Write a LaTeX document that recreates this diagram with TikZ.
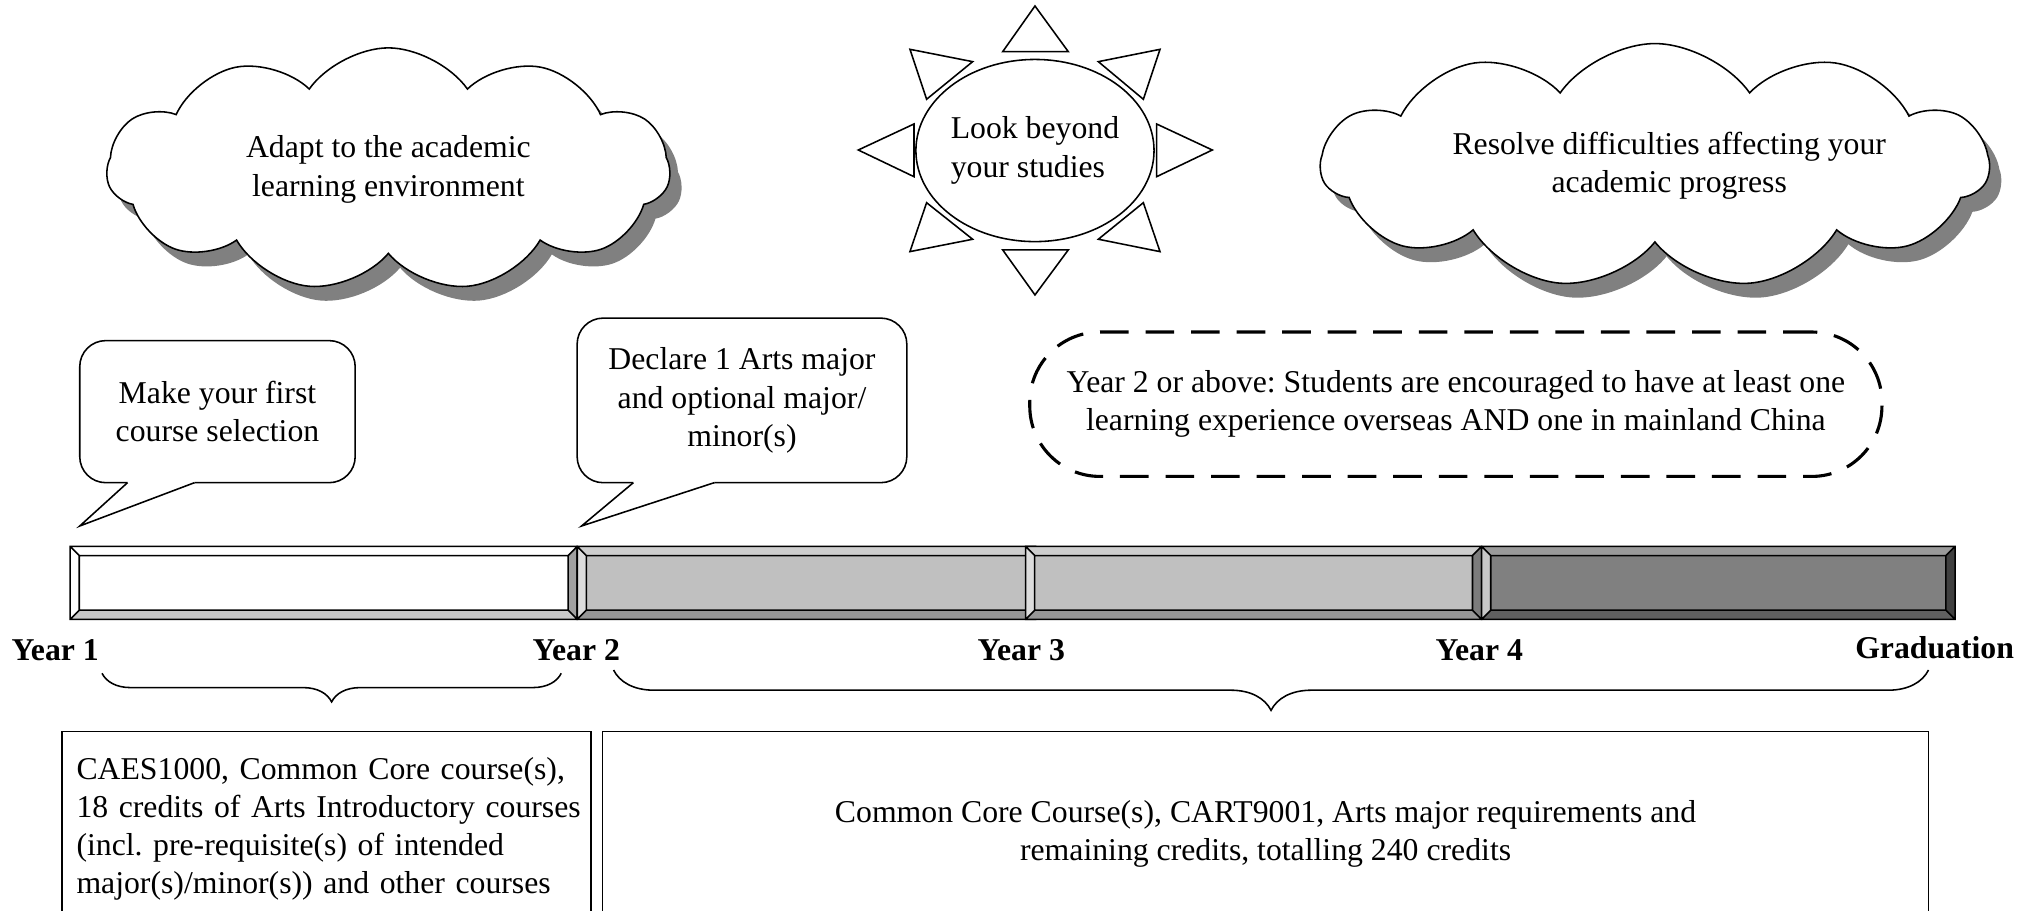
\documentclass[tikz,border=0pt]{standalone}
\usepackage{fontspec}
\setmainfont{Liberation Serif}
\usepackage{tikz}
\usetikzlibrary{shapes.symbols, shapes.geometric, shadows, decorations.pathreplacing}
\frenchspacing

\definecolor{shadowgray}{RGB}{128,128,128}
\definecolor{barsilver}{RGB}{192,192,192}
\definecolor{bardark}{RGB}{128,128,128}
\definecolor{bevpale}{RGB}{220,220,220}
\definecolor{bevtop}{RGB}{206,206,206}
\definecolor{bevlow}{RGB}{200,200,200}
\definecolor{bevmid}{RGB}{160,160,160}
\definecolor{bevdeep}{RGB}{150,150,150}
\definecolor{bevgrey}{RGB}{124,124,124}
\definecolor{bevdarktop}{RGB}{154,154,154}
\definecolor{bevdarklow}{RGB}{96,96,96}
\definecolor{bevdarkend}{RGB}{64,64,64}

% one bevelled piece of the timeline: x1, x2, face, top, left, bottom, right
\newcommand{\yearbar}[7]{%
  \fill[#3] (#1+7,427) rectangle (#2-7,469);
  \fill[#4] (#1,420) -- (#2,420) -- (#2-7,427) -- (#1+7,427) -- cycle;
  \fill[#5] (#1,420) -- (#1+7,427) -- (#1+7,469) -- (#1,476) -- cycle;
  \fill[#6] (#1,476) -- (#2,476) -- (#2-7,469) -- (#1+7,469) -- cycle;
  \fill[#7] (#2,420) -- (#2,476) -- (#2-7,469) -- (#2-7,427) -- cycle;
  \draw[barline] (#1,420) rectangle (#2,476) (#1+7,427) rectangle (#2-7,469)
    (#1,420) -- (#1+7,427) (#2,420) -- (#2-7,427)
    (#1,476) -- (#1+7,469) (#2,476) -- (#2-7,469);
}

\begin{document}
\begin{tikzpicture}[x=0.5pt, y=-0.5pt, line width=0.6pt,
  font=\fontsize{12.2pt}{14.7pt}\selectfont,
  cloudbox/.style={cloud, cloud puffs=11, cloud puff arc=110, cloud ignores aspect,
    draw, fill=white, align=center, inner sep=0pt,
    drop shadow={shadow xshift=4.5pt, shadow yshift=-5.5pt, fill=shadowgray, opacity=1}},
  ray/.style={draw, fill=white, line join=miter},
  bubble/.style={draw, fill=white, rounded corners=10pt, align=center, inner sep=0pt},
  barline/.style={draw=black, line width=0.6pt, line join=miter},
  yearlabel/.style={font=\fontsize{12.2pt}{14.7pt}\selectfont\bfseries},
  creditbox/.style={draw, inner ysep=0pt}]
  \useasboundingbox (0,0) rectangle (1568,700.2);

  % Clouds
  \node[cloudbox, minimum width=216.5pt, minimum height=93.5pt] (adapt) at (298.5,130.3) {Adapt to the academic\\learning environment};
  \node[cloudbox, minimum width=256.5pt, minimum height=94pt] (resolve) at (1272,127.5) {\hspace*{11pt}Resolve difficulties affecting your\\\hspace*{11pt}academic progress};

  % Sun
  \node[draw, ellipse, minimum width=87pt, minimum height=70pt, inner sep=0pt, align=left] (sun) at (795.5,115.7) {Look beyond\\your studies};
  \draw[ray] (795.5,4.6) -- (770.7,39.7) -- (821.1,39.7) -- cycle;
  \draw[ray] (795.5,226.7) -- (770.7,192.1) -- (821.1,192.1) -- cycle;
  \draw[ray] (659.7,115.3) -- (702.5,95.3) -- (702.5,135.8) -- cycle;
  \draw[ray] (931.8,115.3) -- (889.0,95.3) -- (889.0,135.8) -- cycle;
  \draw[ray] (699.4,37.9) -- (747.6,47.4) -- (712.2,76.3) -- cycle;
  \draw[ray] (891.6,37.9) -- (844.2,47.4) -- (878.8,76.3) -- cycle;
  \draw[ray] (699.4,193.4) -- (747.6,183.9) -- (712.2,155.8) -- cycle;
  \draw[ray] (891.6,193.4) -- (844.2,183.9) -- (878.8,155.8) -- cycle;

  % Speech bubbles
  \node[bubble, minimum width=105.85pt, minimum height=54.6pt] (firstpick) at (167.15,316.4) {Make your first\\course selection};
  \fill[white] (98,369.6) -- (149.5,369.6) -- (149.5,371) -- (61.3,404.3) -- (98,371) -- cycle;
  \draw[line join=miter] (98,371) -- (61.3,404.3) -- (149.5,371);

  \node[bubble, minimum width=126.7pt, minimum height=63.25pt] (declare) at (570.3,307.75) {Declare 1 Arts major\\and optional major/\\minor(s)};
  \fill[white] (486.8,369.6) -- (549,369.6) -- (549,371) -- (447,404.3) -- (486.8,371) -- cycle;
  \draw[line join=miter] (486.8,371) -- (447,404.3) -- (549,371);

  % Overseas and mainland experience
  \node[draw, dash pattern=on 11pt off 6.5pt, line width=1.2pt, rounded corners=27pt, minimum width=327.5pt, minimum height=55.5pt, inner sep=0pt, align=center] (abroad) at (1119,310.7) {Year 2 or above: Students are encouraged to have at least one\\learning experience overseas AND one in mainland China};

  % Timeline
  \yearbar{53.9}{443.7}{white}{white}{white}{bevlow}{bevmid}
  \yearbar{443.7}{796}{barsilver}{bevtop}{bevpale}{bevdeep}{bevmid}
  \yearbar{788.3}{1138.8}{barsilver}{bevtop}{bevpale}{bevdeep}{bevgrey}
  \yearbar{1138.8}{1502.7}{bardark}{bevdarktop}{bevlow}{bevdarklow}{bevdarkend}

  \node[yearlabel] (yr1) at (42.4,500) {Year 1};
  \node[yearlabel] (yr2) at (443,500) {Year 2};
  \node[yearlabel] (yr3) at (785,500) {Year 3};
  \node[yearlabel] (yr4) at (1137,500) {Year 4};
  \node[yearlabel] (grad) at (1487,498) {Graduation};

  % Braces
  \draw[decorate, decoration={brace, mirror, amplitude=11pt}] (78.4,517.5) -- (431.4,517.5);
  \draw[decorate, decoration={brace, mirror, amplitude=15.5pt}] (471.6,515) -- (1482.3,515);

  % Credit requirements
  \node[creditbox, minimum width=203.45pt, minimum height=74.6pt, inner xsep=5.65pt, text width=192.15pt, align=left] (yearone) at (250.95,637) {\mbox{CAES1000, Common Core course(s),}\\\mbox{18 credits of Arts Introductory courses}\\\mbox{(incl. pre-requisite(s) of intended}\\\mbox{major(s)/minor(s)) and other courses}};
  \node[creditbox, minimum width=509.55pt, minimum height=78.6pt, align=center] (lateryears) at (972.75,641) {Common Core Course(s), CART9001, Arts major requirements and\\remaining credits, totalling 240 credits};
\end{tikzpicture}
\end{document}
